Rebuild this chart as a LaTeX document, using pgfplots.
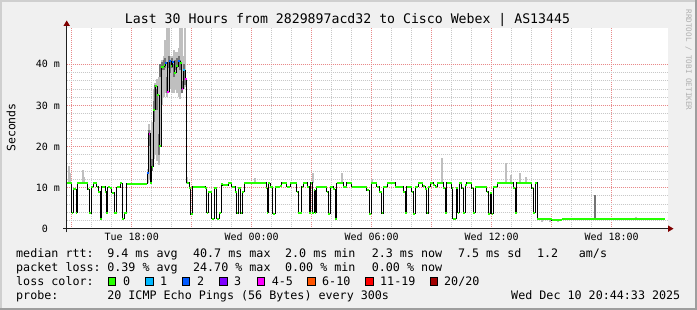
\documentclass[border=0pt]{standalone}
\usepackage{fontspec}
\usepackage{pgfplots}
\pgfplotsset{compat=1.18}
\usepackage{pgfplotstable}
\newfontfamily\mono{DejaVu Sans Mono}
\definecolor{bgc}{HTML}{F0F0F0}
\definecolor{shadea}{HTML}{CFCFCF}
\definecolor{shadeb}{HTML}{9E9E9E}
\definecolor{arrowc}{HTML}{7F0000}
\definecolor{axisc}{HTML}{1F1F1F}
\definecolor{mgrid}{HTML}{E88A8A}
\definecolor{mingrid}{HTML}{C8C8C8}
\definecolor{lcz}{HTML}{26FF00}
\definecolor{lca}{HTML}{00B8FF}
\definecolor{lcb}{HTML}{0059FF}
\definecolor{lcc}{HTML}{7E00FF}
\definecolor{lcd}{HTML}{FF00FF}
\definecolor{lce}{HTML}{FF5500}
\definecolor{lcf}{HTML}{FF0000}
\definecolor{lcg}{HTML}{A10000}
\definecolor{wmark}{HTML}{B0B0B0}

\pgfplotstableread{
x v
14.75 11.2
15.00 3.9
15.07 9.6
15.22 3.9
15.29 11.2
15.57 11.0
15.80 9.6
15.87 3.7
15.97 10.2
16.08 11.0
16.25 10.2
16.33 9.0
16.42 2.4
16.50 10.2
16.67 9.0
16.73 3.7
16.80 10.1
16.92 9.9
17.00 8.8
17.13 3.7
17.25 10.1
17.42 11.0
17.53 2.4
17.63 3.9
17.75 10.9
18.78 13.5
18.85 23.1
18.92 11.1
19.00 15.1
19.08 29.0
19.19 34.7
19.28 32.5
19.38 20.1
19.47 39.4
19.62 39.8
19.69 40.4
19.78 33.3
19.87 40.7
19.97 39.5
20.04 40.6
20.14 38.0
20.22 39.5
20.34 40.7
20.44 40.3
20.50 34.1
20.58 38.5
20.67 36.5
20.75 11.2
20.88 9.8
20.95 3.5
21.05 10.2
21.67 9.8
21.75 3.9
21.83 9.0
22.00 2.4
22.13 9.8
22.25 2.4
22.38 3.9
22.47 10.9
22.55 10.6
22.83 11.2
23.00 10.2
23.17 9.0
23.25 3.7
23.33 9.8
23.45 3.7
23.53 9.0
23.62 11.2
24.72 9.8
24.78 3.9
24.83 11.0
24.92 10.2
25.05 3.6
25.17 10.2
25.42 10.4
25.50 11.2
25.75 10.2
25.92 11.2
26.25 9.0
26.33 3.9
26.50 10.2
26.58 11.2
26.78 10.2
26.88 3.9
26.95 11.2
27.03 3.9
27.12 9.4
27.17 3.9
27.22 10.2
27.75 9.0
27.83 3.6
27.92 10.2
28.08 9.6
28.17 2.4
28.25 11.0
28.33 11.2
28.58 10.2
28.75 11.2
28.92 11.0
29.00 10.2
29.75 9.4
29.88 3.6
29.97 11.0
30.25 10.2
30.37 9.0
30.50 3.7
30.58 10.2
30.78 11.2
31.17 10.2
31.58 9.0
31.67 3.7
31.75 10.2
32.00 9.0
32.08 3.6
32.17 10.2
32.33 11.2
32.55 10.3
32.67 9.6
32.75 3.8
32.82 10.2
32.92 11.2
33.08 10.6
33.17 10.2
33.28 11.2
33.58 9.8
33.67 3.9
33.75 11.2
34.00 9.8
34.05 2.4
34.22 9.8
34.30 3.9
34.38 11.2
34.50 9.8
34.58 3.9
34.67 10.6
34.75 11.2
35.00 9.8
35.08 3.9
35.17 10.2
35.75 9.0
35.83 3.6
35.92 8.8
36.00 3.6
36.08 10.2
36.28 11.2
37.08 9.8
37.17 3.9
37.25 11.2
38.00 9.8
38.08 3.9
38.17 11.2
38.28 2.3
39.00 2.0
39.50 2.3
44.67 2.3
}\median

\pgfplotstableread{
x lo hi
14.87 11.2 15.2
14.92 11.2 13.5
15.57 11.0 14.3
15.62 11.0 12.6
24.17 11.2 12.3
27.05 11.2 13.5
28.50 11.2 13.5
30.00 11.0 12.1
33.53 11.2 17.1
36.73 11.2 15.9
36.95 11.2 13.0
37.40 11.2 13.5
37.70 11.2 12.6
43.20 2.3 2.8
38.50 1.7 2.3
38.90 1.6 2.2
39.30 1.6 2.0
18.80 11.0 14.5
18.87 12.0 25.5
18.95 11.0 24.0
19.03 14.5 26.0
19.10 17.0 34.0
19.18 18.0 35.5
19.27 16.5 36.5
19.35 15.5 37.0
19.43 20.0 39.5
19.52 30.0 41.0
19.60 32.0 42.0
19.68 33.0 46.0
19.77 32.0 48.8
19.85 33.0 48.8
19.93 34.0 42.0
20.02 33.0 42.0
20.10 33.0 43.5
20.18 34.0 43.0
20.27 33.0 43.0
20.35 32.0 44.0
20.43 31.5 48.8
20.52 33.0 48.8
20.60 34.0 42.0
20.68 34.5 48.8
20.76 10.8 12.5
}\smokelight

\pgfplotstableread{
x lo hi
18.87 20.0 24.0
18.95 11.0 13.0
19.03 14.0 17.0
19.10 26.0 31.0
19.18 31.0 35.0
19.27 29.0 34.0
19.35 18.0 23.0
19.43 37.0 40.0
19.52 38.5 40.5
19.60 38.5 41.0
19.68 39.0 41.5
19.77 33.0 37.0
19.85 39.0 42.0
19.93 38.0 41.0
20.02 39.0 41.5
20.10 37.0 40.0
20.18 38.5 41.0
20.27 39.0 41.5
20.35 39.5 42.0
20.43 38.5 41.0
20.52 33.0 36.0
20.60 37.0 40.0
20.68 35.0 38.0
41.18 2.3 8.2
}\smokedark

\begin{document}
\begin{tikzpicture}[x=1pt,y=1pt]
\useasboundingbox (0,0) rectangle (697,310);
\fill[bgc] (0,0) rectangle (697,310);
\fill[shadea] (0,0) rectangle (2,310);
\fill[shadea] (0,308) rectangle (697,310);
\fill[shadeb] (695,0) rectangle (697,310);
\fill[shadeb] (0,0) rectangle (697,2);

\begin{axis}[
  at={(66.7pt,81.3pt)}, anchor=south west,
  scale only axis, width=601.3pt, height=200.4pt,
  xmin=14.75, xmax=44.82, ymin=0, ymax=48.76,
  axis line style={draw=none},
  axis background/.style={fill=white},
  xtick={15,18,21,24,27,30,33,36,39,42},
  xticklabels={,Tue 18:00,,Wed 00:00,,Wed 06:00,,Wed 12:00,,Wed 18:00},
  minor x tick num=2,
  ytick={0,10,20,30,40},
  yticklabels={0\hphantom{\ m},10 m,20 m,30 m,40 m},
  minor y tick num=4,
  grid=both,
  major grid style={draw=mgrid, line width=0.8pt, dash pattern=on 1pt off 1pt},
  minor grid style={draw=mingrid, line width=0.8pt, dash pattern=on 1pt off 1pt},
  major tick length=0pt, minor tick length=0pt,
  tick label style={font=\mono\fontsize{10}{12}\selectfont, text=black},
  xticklabel style={anchor=base, inner sep=0pt, yshift=-12pt},
  yticklabel style={anchor=east, inner sep=0pt, xshift=-6.5pt},
]
\addplot[draw=none, mark=none, forget plot,
  error bars/.cd, y dir=plus, y explicit, error mark=none,
  error bar style={draw=black!25, line width=1.8pt}]
  table[x=x, y=lo, y error expr=\thisrow{hi}-\thisrow{lo}] {\smokelight};
\addplot[draw=none, mark=none, forget plot,
  error bars/.cd, y dir=plus, y explicit, error mark=none,
  error bar style={draw=black!55, line width=1.8pt}]
  table[x=x, y=lo, y error expr=\thisrow{hi}-\thisrow{lo}] {\smokedark};
\addplot[black, line width=1pt, const plot mark left, mark=none] table[x=x,y=v] {\median};
\addplot[lcz, line width=2pt, jump mark left, mark=none] table[x=x,y=v] {\median};
\addplot[lcb, line width=2pt] coordinates {(18.78,13.5) (18.85,13.5)};
\addplot[lcd, line width=2pt] coordinates {(18.85,23.1) (18.92,23.1)};
\addplot[lcb, line width=2pt] coordinates {(19.69,40.4) (19.78,40.4)};
\addplot[lcd, line width=2pt] coordinates {(19.78,33.3) (19.87,33.3)};
\addplot[lcb, line width=2pt] coordinates {(19.87,40.7) (19.97,40.7)};
\addplot[lcb, line width=2pt] coordinates {(20.04,40.6) (20.14,40.6)};
\addplot[lcb, line width=2pt] coordinates {(20.34,40.7) (20.44,40.7)};
\addplot[lcd, line width=2pt] coordinates {(20.50,34.1) (20.58,34.1)};
\addplot[lca, line width=2pt] coordinates {(20.58,38.5) (20.67,38.5)};
\addplot[lcd, line width=2pt] coordinates {(20.67,36.5) (20.75,36.5)};
\end{axis}

% axes
\draw[axisc, line width=1pt] (63,81.3) -- (669,81.3);
\draw[axisc, line width=1pt] (66.7,77.5) -- (66.7,285);
\fill[arrowc] (668,84.6) -- (673.5,81.3) -- (668,78) -- cycle;
\fill[arrowc] (63.4,284) -- (66.7,289.5) -- (70,284) -- cycle;

% title and labels
\node[anchor=base, inner sep=0pt, font=\mono\fontsize{13.2}{15}\selectfont] at (347.5,286) {Last 30 Hours from 2829897acd32 to Cisco Webex | AS13445};
\node[rotate=90, inner sep=0pt, font=\mono\fontsize{11.5}{13}\selectfont] at (11,182.5) {Seconds};
\node[rotate=-90, inner sep=0pt, text=wmark, font=\mono\fontsize{7.6}{9}\selectfont] at (688.5,250) {RRDTOOL / TOBI OETIKER};

\begin{scope}[every node/.style={anchor=base west, inner sep=0pt, font=\mono\fontsize{11.7}{14}\selectfont}]
\node at (16,52.5) {median rtt:};
\node at (107.1,52.5) {9.4 ms avg};
\node at (192.9,52.5) {40.7 ms max};
\node at (284.9,52.5) {2.0 ms min};
\node at (371.6,52.5) {2.3 ms now};
\node at (457.8,52.5) {7.5 ms sd};
\node at (536.9,52.5) {1.2};
\node at (578.7,52.5) {am/s};
\node at (16,38.5) {packet loss:};
\node at (107.1,38.5) {0.39 \% avg};
\node at (192.9,38.5) {24.70 \% max};
\node at (284.9,38.5) {0.00 \% min};
\node at (371.6,38.5) {0.00 \% now};
\node at (16,24.5) {loss color:};
\node at (123,24.5) {0};
\node at (160,24.5) {1};
\node at (197,24.5) {2};
\node at (234,24.5) {3};
\node at (271.6,24.5) {4-5};
\node at (322,24.5) {6-10};
\node at (380,24.5) {11-19};
\node at (444,24.5) {20/20};
\node at (16,10.5) {probe:};
\node at (107.1,10.5) {20 ICMP Echo Pings (56 Bytes) every 300s};
\node[anchor=base east] at (680.5,10.5) {Wed Dec 10 20:44:33 2025};
\end{scope}
\foreach \bx/\bc in {108/lcz,145.3/lca,182.2/lcb,219.6/lcc,256.9/lcd,307.6/lce,365.8/lcf,430.2/lcg}{
  \fill[\bc, draw=black, line width=0.8pt] (\bx,25) rectangle ++(7.6,7.4);
}
\end{tikzpicture}
\end{document}
